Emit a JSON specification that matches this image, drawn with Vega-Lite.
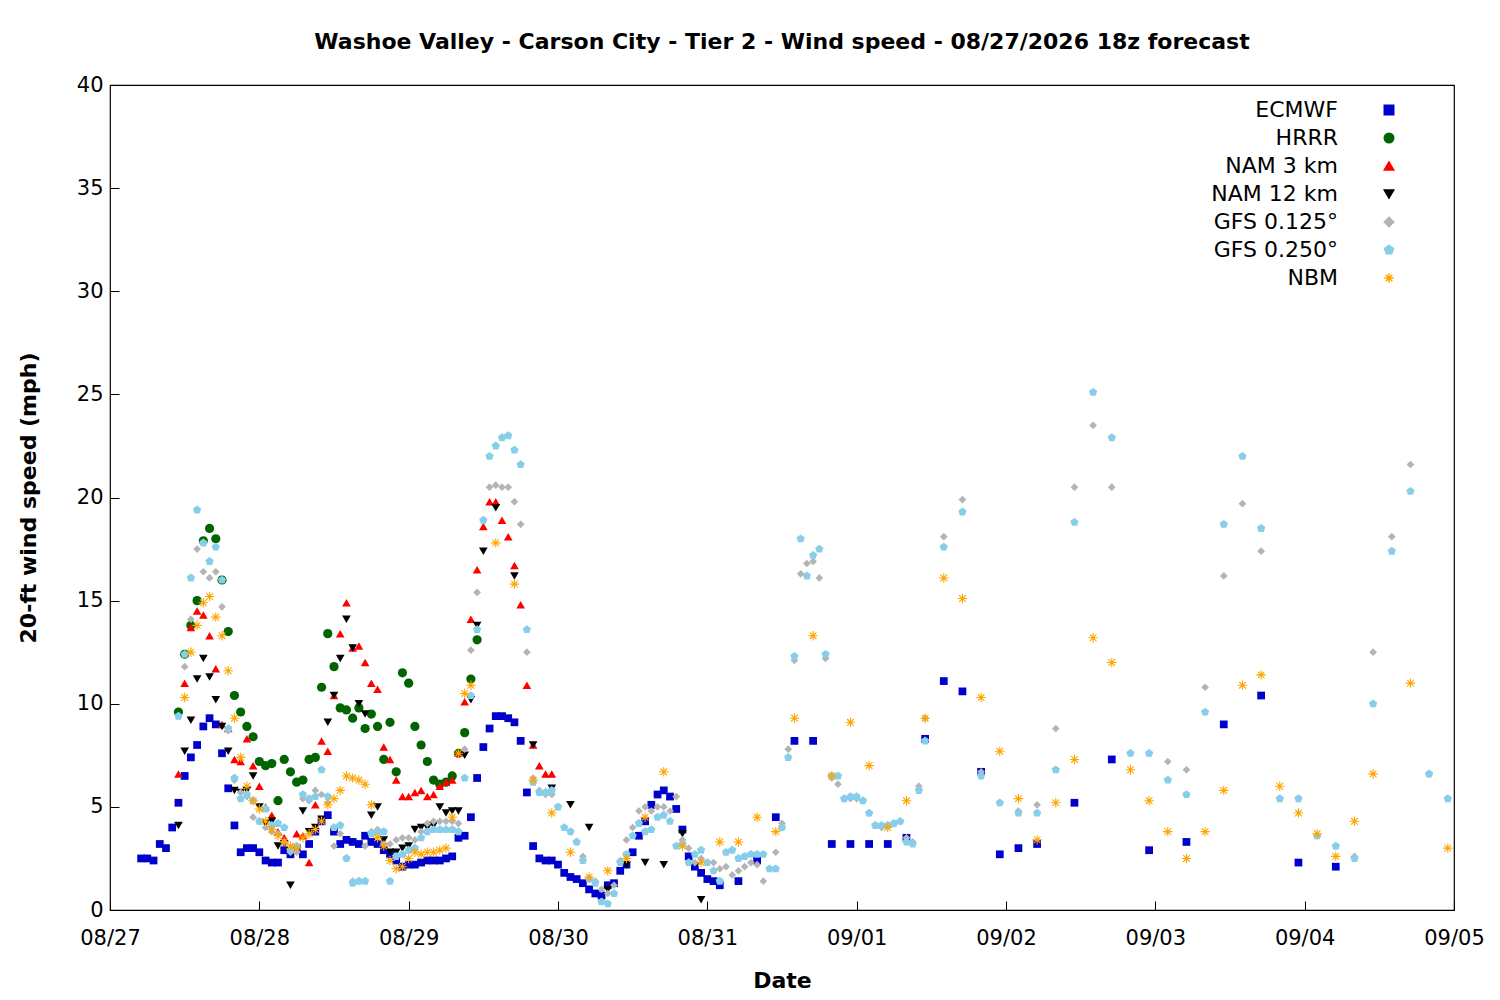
{
"$schema":"https://vega.github.io/schema/vega-lite/v6.json",
"autosize":{"type":"none"},
"padding":{"left":110,"top":85,"right":46,"bottom":90},
"width":1344,"height":825,
"background":"white",
"title":{"text":"Washoe Valley - Carson City - Tier 2 - Wind speed - 08/27/2026 18z forecast","font":"DejaVu Sans","fontSize":22,"fontWeight":"bold","color":"black","offset":20},
"config":{"font":"DejaVu Sans","view":{"stroke":"black","strokeWidth":1.2},
"axis":{"grid":false,"domain":false,"tickColor":"black","tickSize":-9,"labelFontSize":21,"labelColor":"black","titleFontSize":22,"titleFontWeight":"bold","titleColor":"black","labelFont":"DejaVu Sans","titleFont":"DejaVu Sans","labelPadding":16,"labelFlush":false}},
"datasets":{
"E":[{"h":5,"v":2.5},{"h":6,"v":2.5},{"h":7,"v":2.4},{"h":8,"v":3.2},{"h":9,"v":3.0},{"h":10,"v":4.0},{"h":11,"v":5.2},{"h":12,"v":6.5},{"h":13,"v":7.4},{"h":14,"v":8.0},{"h":15,"v":8.9},{"h":16,"v":9.3},{"h":17,"v":9.0},{"h":18,"v":7.6},{"h":19,"v":5.9},{"h":20,"v":4.1},{"h":21,"v":2.8},{"h":22,"v":3.0},{"h":23,"v":3.0},{"h":24,"v":2.8},{"h":25,"v":2.4},{"h":26,"v":2.3},{"h":27,"v":2.3},{"h":28,"v":2.9},{"h":29,"v":2.7},{"h":30,"v":3.0},{"h":31,"v":2.7},{"h":32,"v":3.2},{"h":33,"v":3.8},{"h":34,"v":4.3},{"h":35,"v":4.6},{"h":36,"v":3.8},{"h":37,"v":3.2},{"h":38,"v":3.4},{"h":39,"v":3.3},{"h":40,"v":3.2},{"h":41,"v":3.6},{"h":42,"v":3.3},{"h":43,"v":3.2},{"h":44,"v":2.9},{"h":45,"v":2.7},{"h":46,"v":2.4},{"h":47,"v":2.1},{"h":48,"v":2.2},{"h":49,"v":2.2},{"h":50,"v":2.3},{"h":51,"v":2.4},{"h":52,"v":2.4},{"h":53,"v":2.4},{"h":54,"v":2.5},{"h":55,"v":2.6},{"h":56,"v":3.5},{"h":57,"v":3.6},{"h":58,"v":4.5},{"h":59,"v":6.4},{"h":60,"v":7.9},{"h":61,"v":8.8},{"h":62,"v":9.4},{"h":63,"v":9.4},{"h":64,"v":9.3},{"h":65,"v":9.1},{"h":66,"v":8.2},{"h":67,"v":5.7},{"h":68,"v":3.1},{"h":69,"v":2.5},{"h":70,"v":2.4},{"h":71,"v":2.4},{"h":72,"v":2.2},{"h":73,"v":1.8},{"h":74,"v":1.6},{"h":75,"v":1.5},{"h":76,"v":1.3},{"h":77,"v":1.0},{"h":78,"v":0.8},{"h":79,"v":0.7},{"h":80,"v":1.2},{"h":81,"v":1.3},{"h":82,"v":1.9},{"h":83,"v":2.2},{"h":84,"v":2.8},{"h":85,"v":3.6},{"h":86,"v":4.3},{"h":87,"v":5.1},{"h":88,"v":5.6},{"h":89,"v":5.8},{"h":90,"v":5.5},{"h":91,"v":4.9},{"h":92,"v":3.9},{"h":93,"v":2.6},{"h":94,"v":2.1},{"h":95,"v":1.8},{"h":96,"v":1.5},{"h":97,"v":1.4},{"h":98,"v":1.2},{"h":101,"v":1.4},{"h":104,"v":2.4},{"h":107,"v":4.5},{"h":110,"v":8.2},{"h":113,"v":8.2},{"h":116,"v":3.2},{"h":119,"v":3.2},{"h":122,"v":3.2},{"h":125,"v":3.2},{"h":128,"v":3.5},{"h":131,"v":8.3},{"h":134,"v":11.1},{"h":137,"v":10.6},{"h":140,"v":6.7},{"h":143,"v":2.7},{"h":146,"v":3.0},{"h":149,"v":3.2},{"h":155,"v":5.2},{"h":161,"v":7.3},{"h":167,"v":2.9},{"h":173,"v":3.3},{"h":179,"v":9.0},{"h":185,"v":10.4},{"h":191,"v":2.3},{"h":197,"v":2.1}],
"H":[{"h":11,"v":9.6},{"h":12,"v":12.4},{"h":13,"v":13.8},{"h":14,"v":15.0},{"h":15,"v":17.9},{"h":16,"v":18.5},{"h":17,"v":18.0},{"h":18,"v":16.0},{"h":19,"v":13.5},{"h":20,"v":10.4},{"h":21,"v":9.6},{"h":22,"v":8.9},{"h":23,"v":8.4},{"h":24,"v":7.2},{"h":25,"v":7.0},{"h":26,"v":7.1},{"h":27,"v":5.3},{"h":28,"v":7.3},{"h":29,"v":6.7},{"h":30,"v":6.2},{"h":31,"v":6.3},{"h":32,"v":7.3},{"h":33,"v":7.4},{"h":34,"v":10.8},{"h":35,"v":13.4},{"h":36,"v":11.8},{"h":37,"v":9.8},{"h":38,"v":9.7},{"h":39,"v":9.3},{"h":40,"v":9.8},{"h":41,"v":8.8},{"h":42,"v":9.5},{"h":43,"v":8.9},{"h":44,"v":7.3},{"h":45,"v":9.1},{"h":46,"v":6.7},{"h":47,"v":11.5},{"h":48,"v":11.0},{"h":49,"v":8.9},{"h":50,"v":8.0},{"h":51,"v":7.2},{"h":52,"v":6.3},{"h":53,"v":6.1},{"h":54,"v":6.2},{"h":55,"v":6.5},{"h":56,"v":7.6},{"h":57,"v":8.6},{"h":58,"v":11.2},{"h":59,"v":13.1}],
"N3":[{"h":11,"v":6.6},{"h":12,"v":11.0},{"h":13,"v":13.7},{"h":14,"v":14.5},{"h":15,"v":14.3},{"h":16,"v":13.3},{"h":17,"v":11.7},{"h":18,"v":9.0},{"h":19,"v":8.8},{"h":20,"v":7.3},{"h":21,"v":7.2},{"h":22,"v":8.3},{"h":23,"v":7.0},{"h":24,"v":6.0},{"h":25,"v":5.0},{"h":26,"v":4.6},{"h":27,"v":3.8},{"h":28,"v":3.5},{"h":29,"v":3.0},{"h":30,"v":3.7},{"h":31,"v":3.6},{"h":32,"v":2.3},{"h":33,"v":5.1},{"h":34,"v":8.2},{"h":35,"v":7.7},{"h":36,"v":10.4},{"h":37,"v":13.4},{"h":38,"v":14.9},{"h":39,"v":12.7},{"h":40,"v":12.8},{"h":41,"v":12.0},{"h":42,"v":11.0},{"h":43,"v":10.7},{"h":44,"v":7.9},{"h":45,"v":7.3},{"h":46,"v":6.3},{"h":47,"v":5.5},{"h":48,"v":5.5},{"h":49,"v":5.7},{"h":50,"v":5.8},{"h":51,"v":5.5},{"h":52,"v":5.6},{"h":53,"v":6.0},{"h":54,"v":6.2},{"h":55,"v":6.3},{"h":56,"v":7.6},{"h":57,"v":10.1},{"h":58,"v":14.1},{"h":59,"v":16.5},{"h":60,"v":18.6},{"h":61,"v":19.8},{"h":62,"v":19.8},{"h":63,"v":18.9},{"h":64,"v":18.1},{"h":65,"v":16.7},{"h":66,"v":14.8},{"h":67,"v":10.9},{"h":68,"v":8.0},{"h":69,"v":7.0},{"h":70,"v":6.6},{"h":71,"v":6.6}],
"N12":[{"h":11,"v":4.1},{"h":12,"v":7.7},{"h":13,"v":9.2},{"h":14,"v":11.2},{"h":15,"v":12.2},{"h":16,"v":11.3},{"h":17,"v":10.2},{"h":18,"v":8.9},{"h":19,"v":7.7},{"h":20,"v":5.8},{"h":21,"v":5.7},{"h":22,"v":5.8},{"h":23,"v":6.5},{"h":24,"v":5.0},{"h":25,"v":4.2},{"h":26,"v":4.3},{"h":27,"v":3.1},{"h":28,"v":3.2},{"h":29,"v":1.2},{"h":30,"v":3.0},{"h":31,"v":4.8},{"h":32,"v":3.8},{"h":33,"v":4.0},{"h":34,"v":4.4},{"h":35,"v":9.1},{"h":36,"v":10.4},{"h":37,"v":12.2},{"h":38,"v":14.1},{"h":39,"v":12.7},{"h":40,"v":10.0},{"h":41,"v":9.5},{"h":42,"v":4.6},{"h":43,"v":5.0},{"h":44,"v":3.4},{"h":45,"v":2.8},{"h":46,"v":2.8},{"h":47,"v":3.0},{"h":48,"v":3.1},{"h":49,"v":3.9},{"h":50,"v":4.0},{"h":51,"v":4.0},{"h":52,"v":4.1},{"h":53,"v":5.0},{"h":54,"v":4.7},{"h":55,"v":4.8},{"h":56,"v":4.8},{"h":57,"v":7.5},{"h":58,"v":10.2},{"h":59,"v":13.8},{"h":60,"v":17.4},{"h":62,"v":19.5},{"h":65,"v":16.2},{"h":68,"v":8.0},{"h":71,"v":5.9},{"h":74,"v":5.1},{"h":77,"v":4.0},{"h":80,"v":1.0},{"h":83,"v":2.2},{"h":86,"v":2.3},{"h":89,"v":2.2},{"h":92,"v":3.7},{"h":95,"v":0.5}],
"G1":[{"h":12,"v":11.8},{"h":13,"v":14.1},{"h":14,"v":17.5},{"h":15,"v":16.4},{"h":16,"v":16.1},{"h":17,"v":16.4},{"h":18,"v":14.7},{"h":19,"v":8.7},{"h":20,"v":6.3},{"h":21,"v":5.7},{"h":22,"v":5.5},{"h":23,"v":4.5},{"h":24,"v":4.3},{"h":25,"v":4.0},{"h":26,"v":3.8},{"h":27,"v":3.7},{"h":28,"v":3.3},{"h":29,"v":2.8},{"h":30,"v":2.8},{"h":31,"v":5.4},{"h":32,"v":5.3},{"h":33,"v":5.8},{"h":34,"v":5.6},{"h":35,"v":5.2},{"h":36,"v":3.1},{"h":37,"v":3.7},{"h":38,"v":2.5},{"h":39,"v":1.4},{"h":40,"v":1.4},{"h":41,"v":3.1},{"h":42,"v":3.8},{"h":43,"v":3.9},{"h":44,"v":3.2},{"h":45,"v":3.2},{"h":46,"v":3.4},{"h":47,"v":3.5},{"h":48,"v":3.5},{"h":49,"v":3.4},{"h":50,"v":3.8},{"h":51,"v":4.2},{"h":52,"v":4.3},{"h":53,"v":4.3},{"h":54,"v":4.3},{"h":55,"v":4.3},{"h":56,"v":4.2},{"h":57,"v":7.8},{"h":58,"v":12.6},{"h":59,"v":15.4},{"h":60,"v":18.9},{"h":61,"v":20.5},{"h":62,"v":20.6},{"h":63,"v":20.5},{"h":64,"v":20.5},{"h":65,"v":19.8},{"h":66,"v":18.7},{"h":67,"v":12.5},{"h":68,"v":6.4},{"h":69,"v":5.8},{"h":70,"v":5.6},{"h":71,"v":5.6},{"h":72,"v":5.0},{"h":73,"v":4.0},{"h":74,"v":3.8},{"h":75,"v":3.3},{"h":76,"v":2.6},{"h":77,"v":1.5},{"h":78,"v":1.4},{"h":79,"v":1.0},{"h":80,"v":0.8},{"h":81,"v":1.2},{"h":82,"v":2.4},{"h":83,"v":3.4},{"h":84,"v":4.0},{"h":85,"v":4.8},{"h":86,"v":5.0},{"h":87,"v":4.8},{"h":88,"v":5.0},{"h":89,"v":5.0},{"h":90,"v":4.8},{"h":91,"v":5.5},{"h":92,"v":3.4},{"h":93,"v":3.0},{"h":94,"v":2.3},{"h":95,"v":2.5},{"h":96,"v":2.3},{"h":97,"v":2.3},{"h":98,"v":2.0},{"h":99,"v":2.1},{"h":100,"v":1.7},{"h":101,"v":1.9},{"h":102,"v":2.1},{"h":103,"v":2.3},{"h":104,"v":2.2},{"h":105,"v":1.4},{"h":106,"v":2.0},{"h":107,"v":2.8},{"h":108,"v":4.2},{"h":109,"v":7.8},{"h":110,"v":12.1},{"h":111,"v":16.3},{"h":112,"v":16.8},{"h":113,"v":16.9},{"h":114,"v":16.1},{"h":115,"v":12.2},{"h":116,"v":6.4},{"h":117,"v":6.1},{"h":118,"v":5.4},{"h":119,"v":5.4},{"h":120,"v":5.4},{"h":121,"v":5.3},{"h":122,"v":4.7},{"h":123,"v":4.1},{"h":124,"v":4.0},{"h":125,"v":4.1},{"h":126,"v":4.2},{"h":127,"v":4.3},{"h":128,"v":3.5},{"h":129,"v":3.3},{"h":130,"v":6.0},{"h":131,"v":9.3},{"h":134,"v":18.1},{"h":137,"v":19.9},{"h":140,"v":6.7},{"h":143,"v":5.2},{"h":146,"v":4.8},{"h":149,"v":5.1},{"h":152,"v":8.8},{"h":155,"v":20.5},{"h":158,"v":23.5},{"h":161,"v":20.5},{"h":164,"v":7.6},{"h":167,"v":7.6},{"h":170,"v":7.2},{"h":173,"v":6.8},{"h":176,"v":10.8},{"h":179,"v":16.2},{"h":182,"v":19.7},{"h":185,"v":17.4},{"h":188,"v":5.4},{"h":191,"v":5.4},{"h":194,"v":3.6},{"h":197,"v":3.1},{"h":200,"v":2.6},{"h":203,"v":12.5},{"h":206,"v":18.1},{"h":209,"v":21.6},{"h":212,"v":6.6},{"h":215,"v":5.4}],
"G2":[{"h":11,"v":9.4},{"h":12,"v":12.4},{"h":13,"v":16.1},{"h":14,"v":19.4},{"h":15,"v":17.8},{"h":16,"v":16.9},{"h":17,"v":17.6},{"h":18,"v":16.0},{"h":19,"v":8.8},{"h":20,"v":6.4},{"h":21,"v":5.4},{"h":22,"v":5.6},{"h":23,"v":5.3},{"h":24,"v":4.3},{"h":25,"v":4.9},{"h":26,"v":4.1},{"h":27,"v":4.2},{"h":28,"v":4.0},{"h":29,"v":2.9},{"h":30,"v":3.1},{"h":31,"v":5.6},{"h":32,"v":5.4},{"h":33,"v":5.5},{"h":34,"v":6.8},{"h":35,"v":5.5},{"h":36,"v":4.0},{"h":37,"v":4.1},{"h":38,"v":2.5},{"h":39,"v":1.3},{"h":40,"v":1.4},{"h":41,"v":1.4},{"h":42,"v":3.7},{"h":43,"v":3.8},{"h":44,"v":3.8},{"h":45,"v":1.4},{"h":46,"v":2.6},{"h":47,"v":2.7},{"h":48,"v":2.9},{"h":49,"v":3.0},{"h":50,"v":3.5},{"h":51,"v":3.8},{"h":52,"v":3.9},{"h":53,"v":3.9},{"h":54,"v":3.9},{"h":55,"v":3.9},{"h":56,"v":3.8},{"h":57,"v":6.4},{"h":58,"v":10.4},{"h":59,"v":13.6},{"h":60,"v":18.9},{"h":61,"v":22.0},{"h":62,"v":22.5},{"h":63,"v":22.9},{"h":64,"v":23.0},{"h":65,"v":22.3},{"h":66,"v":21.6},{"h":67,"v":13.6},{"h":68,"v":6.2},{"h":69,"v":5.7},{"h":70,"v":5.7},{"h":71,"v":5.8},{"h":72,"v":5.0},{"h":73,"v":4.0},{"h":74,"v":3.8},{"h":75,"v":3.3},{"h":76,"v":2.4},{"h":77,"v":1.5},{"h":78,"v":1.3},{"h":79,"v":0.4},{"h":80,"v":0.3},{"h":81,"v":0.8},{"h":82,"v":2.3},{"h":83,"v":2.7},{"h":84,"v":3.6},{"h":85,"v":4.2},{"h":86,"v":3.8},{"h":87,"v":3.9},{"h":88,"v":4.5},{"h":89,"v":4.6},{"h":90,"v":4.3},{"h":91,"v":3.1},{"h":92,"v":3.2},{"h":93,"v":2.3},{"h":94,"v":2.7},{"h":95,"v":2.9},{"h":96,"v":2.3},{"h":97,"v":1.9},{"h":98,"v":1.4},{"h":99,"v":2.8},{"h":100,"v":2.9},{"h":101,"v":2.5},{"h":102,"v":2.6},{"h":103,"v":2.7},{"h":104,"v":2.7},{"h":105,"v":2.7},{"h":106,"v":2.0},{"h":107,"v":2.0},{"h":108,"v":4.0},{"h":109,"v":7.4},{"h":110,"v":12.3},{"h":111,"v":18.0},{"h":112,"v":16.2},{"h":113,"v":17.2},{"h":114,"v":17.5},{"h":115,"v":12.4},{"h":116,"v":6.5},{"h":117,"v":6.5},{"h":118,"v":5.4},{"h":119,"v":5.5},{"h":120,"v":5.5},{"h":121,"v":5.3},{"h":122,"v":4.7},{"h":123,"v":4.1},{"h":124,"v":4.1},{"h":125,"v":4.1},{"h":126,"v":4.2},{"h":127,"v":4.3},{"h":128,"v":3.3},{"h":129,"v":3.2},{"h":130,"v":5.8},{"h":131,"v":8.2},{"h":134,"v":17.6},{"h":137,"v":19.3},{"h":140,"v":6.5},{"h":143,"v":5.2},{"h":146,"v":4.7},{"h":149,"v":4.7},{"h":152,"v":6.8},{"h":155,"v":18.8},{"h":158,"v":25.1},{"h":161,"v":22.9},{"h":164,"v":7.6},{"h":167,"v":7.6},{"h":170,"v":6.3},{"h":173,"v":5.6},{"h":176,"v":9.6},{"h":179,"v":18.7},{"h":182,"v":22.0},{"h":185,"v":18.5},{"h":188,"v":5.4},{"h":191,"v":5.4},{"h":194,"v":3.6},{"h":197,"v":3.1},{"h":200,"v":2.5},{"h":203,"v":10.0},{"h":206,"v":17.4},{"h":209,"v":20.3},{"h":212,"v":6.6},{"h":215,"v":5.4}],
"NB":[{"h":12,"v":10.3},{"h":13,"v":12.5},{"h":14,"v":13.8},{"h":15,"v":14.9},{"h":16,"v":15.2},{"h":17,"v":14.2},{"h":18,"v":13.3},{"h":19,"v":11.6},{"h":20,"v":9.3},{"h":21,"v":7.4},{"h":22,"v":6.0},{"h":23,"v":5.3},{"h":24,"v":4.9},{"h":25,"v":4.3},{"h":26,"v":3.9},{"h":27,"v":3.6},{"h":28,"v":3.3},{"h":29,"v":3.1},{"h":30,"v":3.0},{"h":31,"v":3.5},{"h":32,"v":3.7},{"h":33,"v":3.9},{"h":34,"v":4.3},{"h":35,"v":5.1},{"h":36,"v":5.4},{"h":37,"v":5.8},{"h":38,"v":6.5},{"h":39,"v":6.4},{"h":40,"v":6.3},{"h":41,"v":6.1},{"h":42,"v":5.1},{"h":43,"v":3.5},{"h":44,"v":3.1},{"h":45,"v":2.4},{"h":46,"v":2.0},{"h":47,"v":2.1},{"h":48,"v":2.5},{"h":49,"v":2.8},{"h":50,"v":2.7},{"h":51,"v":2.8},{"h":52,"v":2.8},{"h":53,"v":2.9},{"h":54,"v":3.0},{"h":55,"v":4.5},{"h":56,"v":7.6},{"h":57,"v":10.5},{"h":58,"v":10.9},{"h":62,"v":17.8},{"h":65,"v":15.8},{"h":68,"v":6.3},{"h":71,"v":4.7},{"h":74,"v":2.8},{"h":77,"v":1.6},{"h":80,"v":1.9},{"h":83,"v":2.5},{"h":86,"v":4.5},{"h":89,"v":6.7},{"h":92,"v":3.1},{"h":95,"v":2.3},{"h":98,"v":3.3},{"h":101,"v":3.3},{"h":104,"v":4.5},{"h":107,"v":3.8},{"h":110,"v":9.3},{"h":113,"v":13.3},{"h":116,"v":6.5},{"h":119,"v":9.1},{"h":122,"v":7.0},{"h":125,"v":4.0},{"h":128,"v":5.3},{"h":131,"v":9.3},{"h":134,"v":16.1},{"h":137,"v":15.1},{"h":140,"v":10.3},{"h":143,"v":7.7},{"h":146,"v":5.4},{"h":149,"v":3.4},{"h":152,"v":5.2},{"h":155,"v":7.3},{"h":158,"v":13.2},{"h":161,"v":12.0},{"h":164,"v":6.8},{"h":167,"v":5.3},{"h":170,"v":3.8},{"h":173,"v":2.5},{"h":176,"v":3.8},{"h":179,"v":5.8},{"h":182,"v":10.9},{"h":185,"v":11.4},{"h":188,"v":6.0},{"h":191,"v":4.7},{"h":194,"v":3.7},{"h":197,"v":2.6},{"h":200,"v":4.3},{"h":203,"v":6.6},{"h":209,"v":11.0},{"h":215,"v":3.0}]
},
"encoding":{
"x":{"field":"h","type":"quantitative","title":"Date","scale":{"domain":[0,216],"nice":false,"zero":false},"axis":{"values":[0,24,48,72,96,120,144,168,192,216],"labelExpr":"['08/27','08/28','08/29','08/30','08/31','09/01','09/02','09/03','09/04','09/05'][round(datum.value/24)]","labelPadding":26,"titlePadding":22}},
"y":{"field":"v","type":"quantitative","title":"20-ft wind speed (mph)","scale":{"domain":[0,40],"nice":false},"axis":{"values":[0,5,10,15,20,25,30,35,40],"titlePadding":36}},
"color":{"scale":{"domain":["ECMWF","HRRR","NAM 3 km","NAM 12 km","GFS 0.125°","GFS 0.250°","NBM"],"range":["#0000cc","#006400","#ff0000","#000000","#b4b4b4","#87ceeb","#ffa500"]},
"legend":{"orient":"none","legendX":1268,"legendY":14,"title":null,"labelFontSize":22,"labelColor":"black","labelAlign":"right","labelOffset":-62,"labelLimit":0,"rowPadding":6,"symbolSize":90,"encode":{"symbols":{"update":{"stroke":{"scale":"color","field":"value"},"strokeWidth":{"value":1.3}}}}}},
"shape":{"scale":{"domain":["ECMWF","HRRR","NAM 3 km","NAM 12 km","GFS 0.125°","GFS 0.250°","NBM"],"range":["square","circle","triangle-up","triangle-down","diamond","M0,-1L0.95,-0.31L0.59,0.81L-0.59,0.81L-0.95,-0.31Z","M-1,0L1,0M0,-1L0,1M-0.7,-0.7L0.7,0.7M-0.7,0.7L0.7,-0.7"]},"legend":null}
},
"layer":[
{"data":{"name":"E"},"mark":{"type":"point","filled":true,"size":60,"opacity":1},"encoding":{"color":{"datum":"ECMWF"},"shape":{"datum":"ECMWF"}}},
{"data":{"name":"H"},"mark":{"type":"point","filled":true,"size":85,"opacity":1},"encoding":{"color":{"datum":"HRRR"},"shape":{"datum":"HRRR"}}},
{"data":{"name":"N3"},"mark":{"type":"point","filled":true,"size":75,"opacity":1},"encoding":{"color":{"datum":"NAM 3 km"},"shape":{"datum":"NAM 3 km"}}},
{"data":{"name":"N12"},"mark":{"type":"point","filled":true,"size":75,"opacity":1},"encoding":{"color":{"datum":"NAM 12 km"},"shape":{"datum":"NAM 12 km"}}},
{"data":{"name":"G1"},"mark":{"type":"point","filled":true,"size":60,"opacity":1},"encoding":{"color":{"datum":"GFS 0.125°"},"shape":{"datum":"GFS 0.125°"}}},
{"data":{"name":"G2"},"mark":{"type":"point","filled":true,"size":75,"opacity":1},"encoding":{"color":{"datum":"GFS 0.250°"},"shape":{"datum":"GFS 0.250°"}}},
{"data":{"name":"NB"},"mark":{"type":"point","filled":false,"size":90,"opacity":1,"strokeWidth":1.1},"encoding":{"color":{"datum":"NBM"},"shape":{"datum":"NBM"}}}
]
}
